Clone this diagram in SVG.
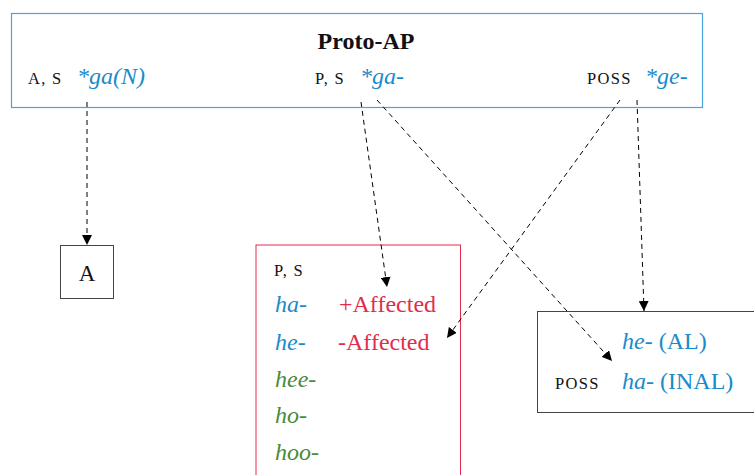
<svg xmlns="http://www.w3.org/2000/svg" width="754" height="475" viewBox="0 0 754 475">
<style>
text{font-family:"Liberation Serif","DejaVu Serif",serif;}
.sc{font-size:16.5px;fill:#111;letter-spacing:1.3px;}
.bl{fill:#1a8bc9;}
.gr{fill:#4a8a3a;}
.rd{fill:#e32c4c;}
.it{font-style:italic;}
.big{font-size:24px;}
.conn{fill:none;stroke:#000;stroke-width:1;stroke-dasharray:5,4;marker-end:url(#ah);}
</style>
<defs>
<marker id="ah" viewBox="0 0 10 10" refX="10" refY="5" markerWidth="10" markerHeight="10" markerUnits="userSpaceOnUse" orient="auto">
<path d="M0,0 L10,5 L0,10 z" fill="#000"/>
</marker>
</defs>
<rect width="754" height="475" fill="#fff"/>
<g id="protoAP">
<rect x="11.5" y="13.5" width="691" height="94" fill="none" stroke="#4aa5dc" stroke-width="1.2"/>
<text x="366" y="49" text-anchor="middle" font-size="24" font-weight="bold" fill="#111">Proto-AP</text>
<text x="28" y="84" class="sc">A, S</text>
<text x="77" y="84" class="big it bl">*ga(N)</text>
<text x="315" y="84" class="sc">P, S</text>
<text x="360" y="84" class="big it bl">*ga-</text>
<text x="587" y="84" class="sc">POSS</text>
<text x="645" y="84" class="big it bl">*ge-</text>
</g>
<g id="nodeA">
<rect x="60.5" y="245.5" width="53" height="53" fill="none" stroke="#444" stroke-width="1"/>
<text x="87" y="281" text-anchor="middle" font-size="23" fill="#111">A</text>
</g>
<g id="pS">
<rect x="256" y="245" width="204.5" height="240" fill="none" stroke="#e32c4c" stroke-width="1"/>
<text x="274" y="276" class="sc">P, S</text>
<text x="275" y="312" class="big it bl">ha-</text>
<text x="339" y="312" class="big rd">+Affected</text>
<text x="275" y="350" class="big it bl">he-</text>
<text x="338" y="350" class="big rd">-Affected</text>
<text x="275" y="387" class="big it gr">hee-</text>
<text x="275" y="423" class="big it gr">ho-</text>
<text x="275" y="460" class="big it gr">hoo-</text>
</g>
<g id="poss">
<rect x="537.5" y="311.5" width="230" height="101" fill="none" stroke="#444" stroke-width="1"/>
<text x="622" y="349" class="big bl"><tspan class="it">he-</tspan> (AL)</text>
<text x="555" y="389" class="sc">POSS</text>
<text x="622" y="389" class="big bl"><tspan class="it">ha-</tspan> (INAL)</text>
</g>
<g id="connectors">
<path class="conn" d="M87,102 L87,245"/>
<path class="conn" d="M361,102 L387,287"/>
<path class="conn" d="M377,100 L612,361"/>
<path class="conn" d="M620,100 L447,338"/>
<path class="conn" d="M637,100 L644,311"/>
</g>
</svg>
